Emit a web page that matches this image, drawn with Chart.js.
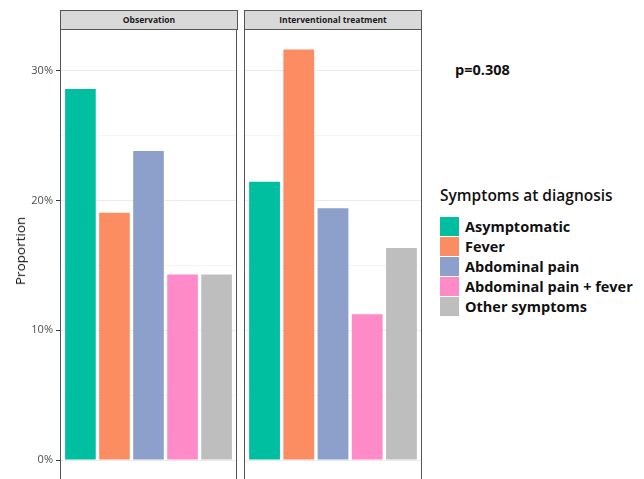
<!DOCTYPE html>
<html>
<head>
<meta charset="utf-8">
<script src="https://cdn.jsdelivr.net/npm/chart.js@4/dist/chart.umd.min.js"></script>
<style>
  body { margin: 0; background: #fff; font-family: "Open Sans", sans-serif; }
  #wrap { position: relative; width: 644px; height: 479px; overflow: hidden; background: #fff; }
  .panel { position: absolute; top: 29px; height: 450px; }
  .strip { position: absolute; top: 10px; height: 20px; box-sizing: border-box; border: 1px solid #555;
    background: #d9d9d9; font-size: 8.5px; font-weight: 700; color: #1a1a1a; text-align: center; line-height: 17px; }
  #ytitle { position: absolute; left: 20px; top: 251px; transform: translate(-50%, -50%) rotate(-90deg);
    font-size: 13.5px; color: #111; white-space: nowrap; }
  #pval { position: absolute; left: 455px; top: 60px; font-size: 14.5px; font-weight: 700; color: #111; }
  #legend { position: absolute; left: 440px; top: 184px; }
  #legend h4 { margin: 0 0 10px 0; font-size: 15.5px; font-weight: 600; color: #111; line-height: 22px; }
  .li { display: flex; align-items: center; height: 20px; }
  .li i { width: 19px; height: 19px; margin-right: 6px; }
  .li span { font-size: 14.5px; font-weight: 700; color: #111; }
</style>
</head>
<body>
<div id="wrap">
  <div class="strip" style="left:60px;width:178px">Observation</div>
  <div class="strip" style="left:244px;width:178px">Interventional treatment</div>
  <div class="panel" style="left:0;width:238px"><canvas id="c1" width="238" height="450"></canvas></div>
  <div class="panel" style="left:244px;width:179px"><canvas id="c2" width="179" height="450"></canvas></div>
  <div id="ytitle">Proportion</div>
  <div id="pval">p=0.308</div>
  <div id="legend"><h4>Symptoms at diagnosis</h4><div id="items"></div></div>
</div>
<script>
const symptoms = ['Asymptomatic', 'Fever', 'Abdominal pain', 'Abdominal pain + fever', 'Other symptoms'];
const colors = ['#00BFA0', '#FC8D62', '#8DA0CB', '#FF8AC8', '#BEBEBE'];
const observation = [28.57, 19.05, 23.81, 14.29, 14.29];
const interventional = [21.43, 31.63, 19.39, 11.22, 16.33];
const yTicks = [0, 5, 10, 15, 20, 25, 30];

document.getElementById('items').innerHTML = symptoms.map((s, i) =>
  `<div class="li"><i style="background:${colors[i]}"></i><span>${s}</span></div>`).join('');

// ggplot-style panel frame (bottom edge falls outside the picture)
const panelBorder = {
  id: 'panelBorder',
  afterDraw(chart) {
    const a = chart.chartArea, ctx = chart.ctx;
    ctx.save();
    ctx.strokeStyle = '#555';
    ctx.lineWidth = 1;
    ctx.strokeRect(a.left + 0.5, a.top + 0.5, a.right - a.left - 1, a.bottom - a.top + 20);
    ctx.restore();
  }
};

function makePanel(id, values, withAxis) {
  return new Chart(document.getElementById(id), {
    type: 'bar',
    data: {
      datasets: [{
        data: values.map((v, i) => ({ x: i + 1, y: v })),
        backgroundColor: colors,
        categoryPercentage: 1,
        barPercentage: 0.9,
      }],
    },
    options: {
      responsive: false,
      animation: false,
      devicePixelRatio: 1,
      layout: { padding: { right: 1 } },
      plugins: { legend: { display: false }, tooltip: { enabled: false } },
      scales: {
        x: { type: 'linear', min: 0.4, max: 5.6, offset: false, display: false },
        y: {
          min: -1.46, max: 33.2,
          afterBuildTicks: s => { s.ticks = yTicks.map(v => ({ value: v })); },
          afterFit: s => { s.width = withAxis ? 60 : 0; s.paddingTop = 0; s.paddingBottom = 0; },
          border: { display: false },
          grid: {
            color: c => c.tick && c.tick.value % 10 === 0 ? '#ebebeb' : '#f4f4f4',
            tickColor: c => c.tick && c.tick.value % 10 === 0 ? '#333' : 'rgba(0,0,0,0)',
            drawTicks: withAxis,
            tickLength: 4,
          },
          ticks: {
            display: withAxis,
            padding: 3,
            color: '#4d4d4d',
            font: { family: 'Open Sans', size: 11 },
            callback: v => v % 10 === 0 ? v + '%' : '',
          },
        },
      },
    },
    plugins: [panelBorder],
  });
}

makePanel('c1', observation, true);
makePanel('c2', interventional, false);
</script>
</body>
</html>
